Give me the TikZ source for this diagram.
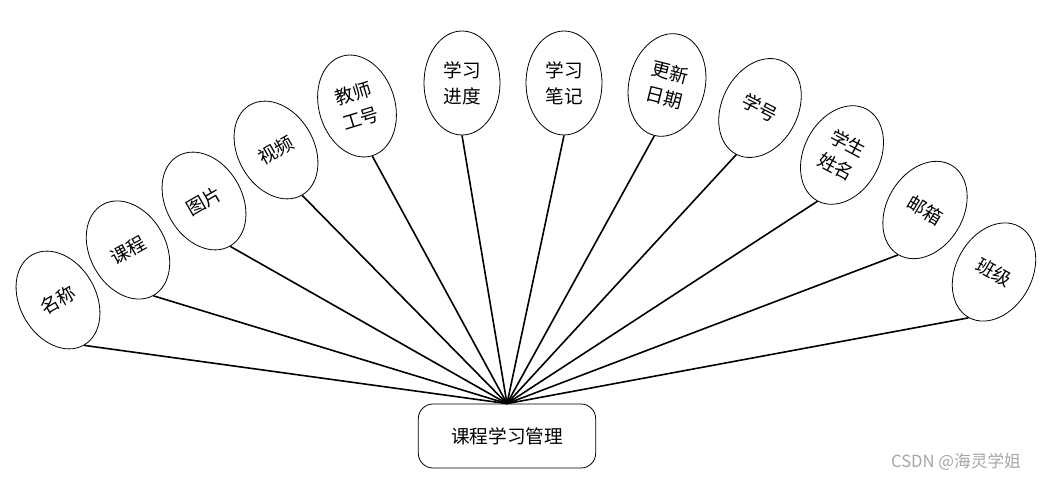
\documentclass[tikz,border=0pt]{standalone}
\usepackage{fontspec}
\setmainfont{Noto Sans CJK SC}
\usetikzlibrary{shapes.geometric}

\begin{document}
\begin{tikzpicture}[x=0.75pt,y=-0.75pt]
  \useasboundingbox (0,0) rectangle (1040,481);
  \node[draw,rounded corners=11pt,line width=0.6pt,minimum width=133pt,minimum height=48pt,
    font=\fontsize{14}{16}\selectfont] (mgr) at (507,436) {课程学习管理};
  % attributes in a fan above the box
  \foreach \i/\px/\py/\ang/\txt in {1/58/300/30/名称, 2/128/250/29/课程, 3/204/201/30/图片,
      4/276/150/30/视频, 5/357/106/17/{教师\\工号}, 6/462/83/0/{学习\\进度}, 7/564/83/0/{学习\\笔记},
      8/667/85/-14/{更新\\日期}, 9/760/108/-27/学号, 10/842/155/-28/{学生\\姓名},
      11/925/210/-31/邮箱, 12/994/272/-29/班级}
    \node[draw,ellipse,line width=0.6pt,minimum width=57pt,minimum height=78pt,inner sep=0pt,
      rotate=\ang,align=center,font=\fontsize{14}{19.5}\selectfont] (a\i) at (\px,\py) {\txt};
  \foreach \i in {1,...,12} \draw[line width=1.2pt] (a\i.south) -- (mgr.north);
  \node[gray!70,font=\fontsize{12.5}{15}\selectfont] (wm) at (956,462) {CSDN @海灵学姐};
\end{tikzpicture}
\end{document}
